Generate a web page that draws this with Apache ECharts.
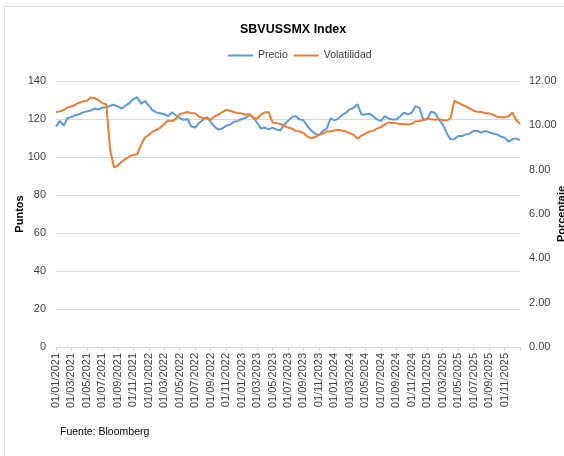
<!DOCTYPE html>
<html>
<head>
<meta charset="utf-8">
<script src="https://cdn.jsdelivr.net/npm/echarts@6/dist/echarts.min.js"></script>
<style>
html,body{margin:0;padding:0;background:#fff;}
#chart{width:564px;height:456px;}
</style>
</head>
<body>
<div id="chart"></div>
<script>
// Semi-monthly sampling points from 01/01/2021 to 01/01/2026 (121 points)
const startYear = 2021;
const tickLabels = [
  '01/01/2021','01/03/2021','01/05/2021','01/07/2021','01/09/2021','01/11/2021',
  '01/01/2022','01/03/2022','01/05/2022','01/07/2022','01/09/2022','01/11/2022',
  '01/01/2023','01/03/2023','01/05/2023','01/07/2023','01/09/2023','01/11/2023',
  '01/01/2024','01/03/2024','01/05/2024','01/07/2024','01/09/2024','01/11/2024',
  '01/01/2025','01/03/2025','01/05/2025','01/07/2025','01/09/2025','01/11/2025'
];

const precio = [
  116, 119, 116.5, 120.5, 121, 122, 122.5, 123.5, 124, 124.5,
  125.5, 125, 126, 126, 127, 127.5, 126.5, 125.5, 127, 128.5,
  130.5, 131.5, 128, 129.5, 127, 124.5, 123.5, 123, 122.5, 121.5,
  123.5, 122, 120.5, 119.5, 120, 116, 115.5, 118, 119.5, 121,
  118.5, 116, 114.5, 115, 116.5, 117, 118.5, 119, 120, 120.5,
  122, 121, 118, 115, 115.5, 114.5, 115.5, 114.5, 114, 117,
  119, 121, 121.5, 119.8, 119.3, 116.3, 114, 112.3, 111.5, 113.7,
  114.9, 120.3, 119.3, 120.2, 122.1, 123.3, 125.1, 125.9, 127.7, 122.4,
  122.4, 122.8, 121.5, 119.8, 118.9, 121.5, 120.3, 119.8, 119.8, 121.5,
  123.3, 122.4, 123.3, 126.8, 125.9, 119.5, 119.8, 123.8, 123.3, 119.8,
  117.2, 112.8, 109.3, 109.3, 111, 111, 111.9, 112.3, 113.7, 113.7,
  112.8, 113.7, 113.1, 112.4, 111.9, 110.8, 110.2, 108.1, 109.3, 109.8,
  108.9
];

const volatilidad = [
  10.60, 10.63, 10.69, 10.81, 10.85, 10.93, 11.02, 11.08, 11.11, 11.26,
  11.23, 11.14, 11.00, 10.95, 8.90, 8.10, 8.19, 8.37, 8.49, 8.60,
  8.67, 8.70, 9.12, 9.45, 9.57, 9.72, 9.80, 9.90, 10.06, 10.22,
  10.18, 10.30, 10.51, 10.55, 10.60, 10.55, 10.54, 10.39, 10.33, 10.33,
  10.25, 10.40, 10.48, 10.60, 10.70, 10.66, 10.60, 10.55, 10.54, 10.48,
  10.51, 10.33, 10.30, 10.48, 10.58, 10.60, 10.13, 10.10, 10.06, 9.98,
  9.90, 9.85, 9.75, 9.72, 9.66, 9.50, 9.42, 9.47, 9.57, 9.63,
  9.72, 9.72, 9.77, 9.80, 9.77, 9.72, 9.65, 9.57, 9.39, 9.54,
  9.63, 9.72, 9.75, 9.85, 9.92, 10.03, 10.13, 10.10, 10.09, 10.06,
  10.06, 10.04, 10.07, 10.18, 10.18, 10.25, 10.31, 10.27, 10.25, 10.28,
  10.24, 10.22, 10.30, 11.11, 11.02, 10.93, 10.85, 10.76, 10.66, 10.61,
  10.60, 10.55, 10.54, 10.48, 10.39, 10.36, 10.37, 10.40, 10.58, 10.24,
  10.06
];

// category dates: 1st and 16th of each month
const categories = [];
for (let i = 0; i < precio.length; i++) {
  const m = Math.floor(i / 2);
  const y = startYear + Math.floor(m / 12);
  const mm = String((m % 12) + 1).padStart(2, '0');
  categories.push((i % 2 === 0 ? '01' : '16') + '/' + mm + '/' + y);
}
const tickSet = new Set(tickLabels);

const FONT = '"Liberation Sans",Arial,sans-serif';
const chart = echarts.init(document.getElementById('chart'), null, {renderer: 'canvas'});
chart.setOption({
  animation: false,
  backgroundColor: '#ffffff',
  textStyle: {fontFamily: FONT},
  title: {
    text: 'SBVUSSMX Index',
    left: 235, top: 18,
    textStyle: {fontFamily: FONT, fontSize: 12.5, fontWeight: 'bold', color: '#000'}
  },
  legend: {
    left: 223, top: 45,
    itemWidth: 25, itemHeight: 2, itemGap: 6,
    icon: 'rect',
    textStyle: {fontFamily: FONT, fontSize: 10.5, color: '#404040'},
    data: ['Precio', 'Volatilidad']
  },
  grid: {left: 56, right: 44, top: 81, bottom: 109, containLabel: false, outerBoundsMode: 'none'},
  xAxis: {
    type: 'category',
    boundaryGap: false,
    data: categories,
    axisLine: {lineStyle: {color: '#d9d9d9'}},
    axisTick: {show: true, length: 4, lineStyle: {color: '#d9d9d9'},
      interval: function (idx) { return idx % 4 === 0; }},
    axisLabel: {
      rotate: 90, margin: 6, fontFamily: FONT, fontSize: 11, color: '#404040',
      interval: function (idx, val) { return tickSet.has(val); }
    },
    splitLine: {show: false}
  },
  yAxis: [
    {
      type: 'value', min: 0, max: 140, interval: 20,
      name: 'Puntos', nameLocation: 'middle', nameGap: 31, nameMoveOverlap: false,
      nameTextStyle: {fontFamily: FONT, fontSize: 11, fontWeight: 'bold', color: '#000'},
      axisLine: {show: false}, axisTick: {show: false},
      axisLabel: {fontFamily: FONT, fontSize: 11, color: '#404040', margin: 10},
      splitLine: {lineStyle: {color: '#d9d9d9'}}
    },
    {
      type: 'value', min: 0, max: 12, interval: 2,
      name: 'Porcentaje', nameLocation: 'middle', nameGap: 36, nameMoveOverlap: false,
      nameTextStyle: {fontFamily: FONT, fontSize: 11, fontWeight: 'bold', color: '#000'},
      axisLine: {show: false}, axisTick: {show: false},
      axisLabel: {fontFamily: FONT, fontSize: 11, color: '#404040', margin: 9,
        formatter: function (v) { return v.toFixed(2); }},
      splitLine: {show: false}
    }
  ],
  series: [
    {
      name: 'Precio', type: 'line', data: precio, yAxisIndex: 0,
      showSymbol: false, symbol: 'none',
      lineStyle: {color: '#5B9BD5', width: 2}, itemStyle: {color: '#5B9BD5'}
    },
    {
      name: 'Volatilidad', type: 'line', data: volatilidad, yAxisIndex: 1,
      showSymbol: false, symbol: 'none',
      lineStyle: {color: '#ED7D31', width: 2}, itemStyle: {color: '#ED7D31'}
    }
  ],
  graphic: [
    {
      type: 'rect', silent: true, z: -1,
      shape: {x: 4.5, y: 6.5, width: 620, height: 520},
      style: {fill: 'none', stroke: '#d9d9d9', lineWidth: 1}
    },
    {
      type: 'text', left: 60, top: 427,
      style: {text: 'Fuente: Bloomberg', font: '10.5px ' + FONT, fill: '#000'}
    }
  ]
});
</script>
</body>
</html>
